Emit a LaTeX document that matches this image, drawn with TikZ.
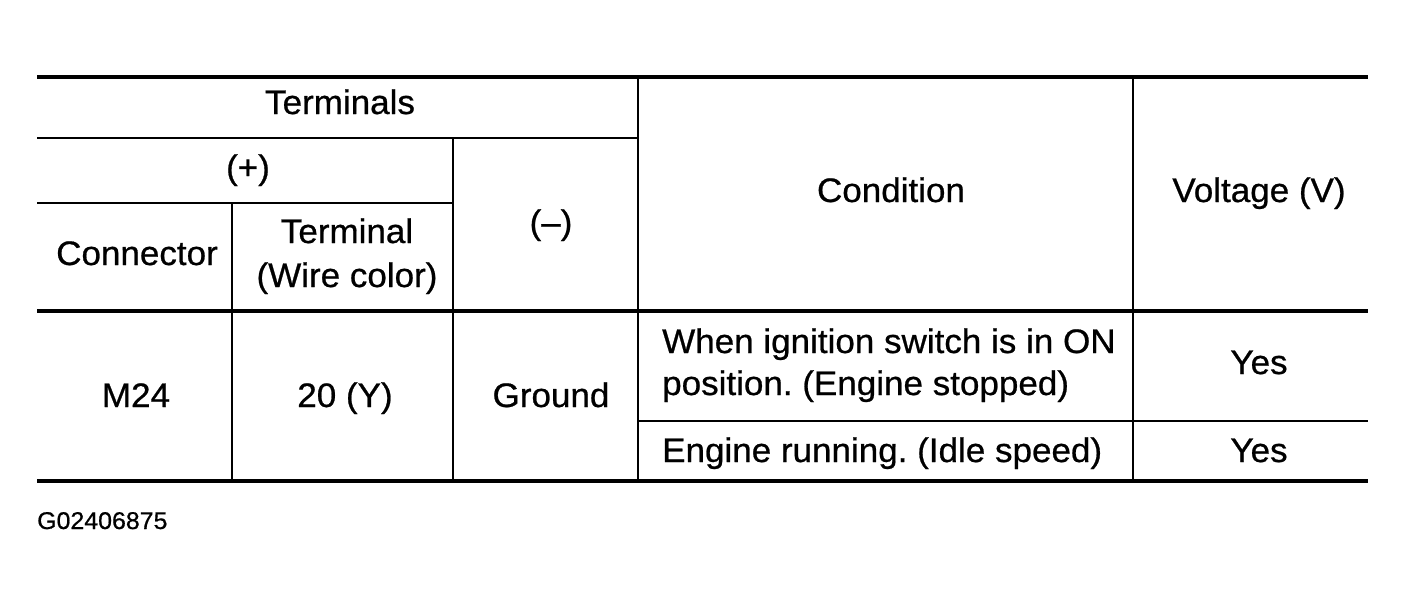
\documentclass[tikz,border=0pt]{standalone}
\usepackage{fontspec}
\setmainfont[FakeStretch=1.03,FakeBold=0.7]{Liberation Sans}
\frenchspacing
\begin{document}
\begin{tikzpicture}[x=1pt,y=-1pt,
  heavy/.style={line width=4pt},
  light/.style={line width=2pt},
  txt/.style={font=\fontsize{34}{42}\selectfont, inner sep=0pt, anchor=base},
  txtl/.style={txt, anchor=base west},
  code/.style={font=\fontsize{24.2}{30}\selectfont, inner sep=0pt, anchor=base west}]
\useasboundingbox (0,0) rectangle (1406,603);
% horizontal rules
\draw[heavy] (37,77) -- (1368,77);
\draw[light] (37,138) -- (638,138);
\draw[light] (37,203) -- (453,203);
\draw[heavy] (37,311) -- (1368,311);
\draw[light] (638,421) -- (1368,421);
\draw[heavy] (37,481) -- (1368,481);
% vertical rules
\draw[light] (232,203) -- (232,481);
\draw[light] (453,138) -- (453,481);
\draw[light] (638,77) -- (638,481);
\draw[light] (1133,77) -- (1133,481);
% header texts
\node[txt] (terminals) at (340,114) {Terminals};
\node[txt] (plus) at (248,179) {(+)};
\node[txt] (connector) at (137,265) {Connector};
\node[txt] (terminal) at (347,243) {Terminal};
\node[txt] (wire) at (347,287) {(Wire color)};
\node[txt] (minus) at (551,234) {(–)};
\node[txt] (condition) at (891,202) {Condition};
\node[txt] (voltage) at (1259,202) {Voltage (V)};
% body texts
\node[txt] (m24) at (136,407) {M24};
\node[txt] (twenty) at (345,407) {20 (Y)};
\node[txt] (ground) at (551,407) {Ground};
\node[txtl] (cond1a) at (662,353) {When ignition switch is in ON};
\node[txtl] (cond1b) at (662,395) {position. (Engine stopped)};
\node[txtl] (cond2) at (662,462) {Engine running. (Idle speed)};
\node[txt] (yes1) at (1259,374) {Yes};
\node[txt] (yes2) at (1259,462) {Yes};
\node[code] (fig) at (37,529) {G02406875};
\end{tikzpicture}
\end{document}
